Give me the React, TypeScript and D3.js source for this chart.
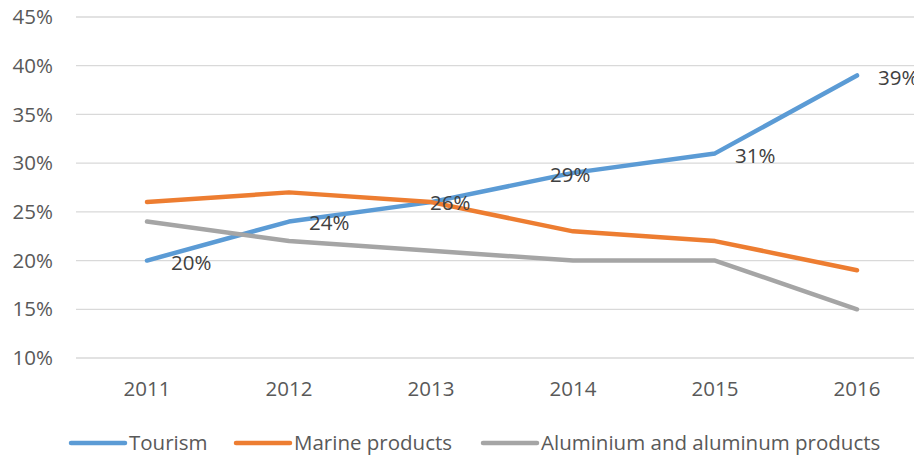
import React from "react";
import * as d3 from "d3";

const years = ["2011", "2012", "2013", "2014", "2015", "2016"];
const tourism = [0.2, 0.24, 0.26, 0.29, 0.31, 0.39];
const marine = [0.26, 0.27, 0.26, 0.23, 0.22, 0.19];
const aluminium = [0.24, 0.22, 0.21, 0.2, 0.2, 0.15];
const yTicks = [0.1, 0.15, 0.2, 0.25, 0.3, 0.35, 0.4, 0.45];

const seriesNames = ["Tourism", "Marine products", "Aluminium and aluminum products"];
const seriesColors = ["#5B9BD5", "#ED7D31", "#A5A5A5"];

// Placement of the Tourism value labels relative to each point (dx, dy)
const labelOffsets: [number, number][] = [
  [24, 2],
  [20, 1],
  [-1, 1],
  [-23, 2],
  [20, 2],
  [21, 2],
];

const W = 914;
const H = 456;
const FONT = "'Open Sans', Lato, sans-serif";
const FS = 20.5;

export default function App() {
  const x = d3.scaleBand<string>().domain(years).range([76, 928]);
  const y = d3.scaleLinear().domain([0.1, 0.45]).range([358, 17]);
  const cx = (yr: string) => (x(yr) ?? 0) + x.bandwidth() / 2;

  const line = d3
    .line<number>()
    .x((_, i) => cx(years[i]))
    .y((d) => y(d));

  const series = [tourism, marine, aluminium];
  const fmt = d3.format(".0%");
  const legendX = [71, 236, 483];

  return (
    <svg
      width={W}
      height={H}
      style={{ position: "absolute", left: 0, top: 0, background: "#fff" }}
      fontFamily={FONT}
    >
      {yTicks.map((t) => (
        <g key={t}>
          <line x1={76} x2={928} y1={y(t)} y2={y(t)} stroke="#D9D9D9" strokeWidth={1.3} />
          <text x={53} y={y(t)} dy="0.35em" textAnchor="end" fontSize={FS} fill="#595959">
            {fmt(t)}
          </text>
        </g>
      ))}
      {years.map((yr) => (
        <text key={yr} x={cx(yr)} y={396} textAnchor="middle" fontSize={FS} fill="#595959">
          {yr}
        </text>
      ))}
      {series.map((s, k) => (
        <path
          key={k}
          d={line(s) ?? ""}
          fill="none"
          stroke={seriesColors[k]}
          strokeWidth={4.5}
          strokeLinejoin="round"
          strokeLinecap="round"
        />
      ))}
      {tourism.map((v, i) => (
        <text
          key={i}
          x={cx(years[i]) + labelOffsets[i][0]}
          y={y(v) + labelOffsets[i][1]}
          dy="0.35em"
          fontSize={FS}
          fill="#404040"
        >
          {fmt(v)}
        </text>
      ))}
      {seriesNames.map((n, k) => (
        <g key={n} transform={`translate(${legendX[k]},443)`}>
          <line x1={0} x2={54} y1={0} y2={0} stroke={seriesColors[k]} strokeWidth={4.5} strokeLinecap="round" />
          <text x={58} y={0} dy="0.35em" fontSize={FS} fill="#595959">
            {n}
          </text>
        </g>
      ))}
    </svg>
  );
}
